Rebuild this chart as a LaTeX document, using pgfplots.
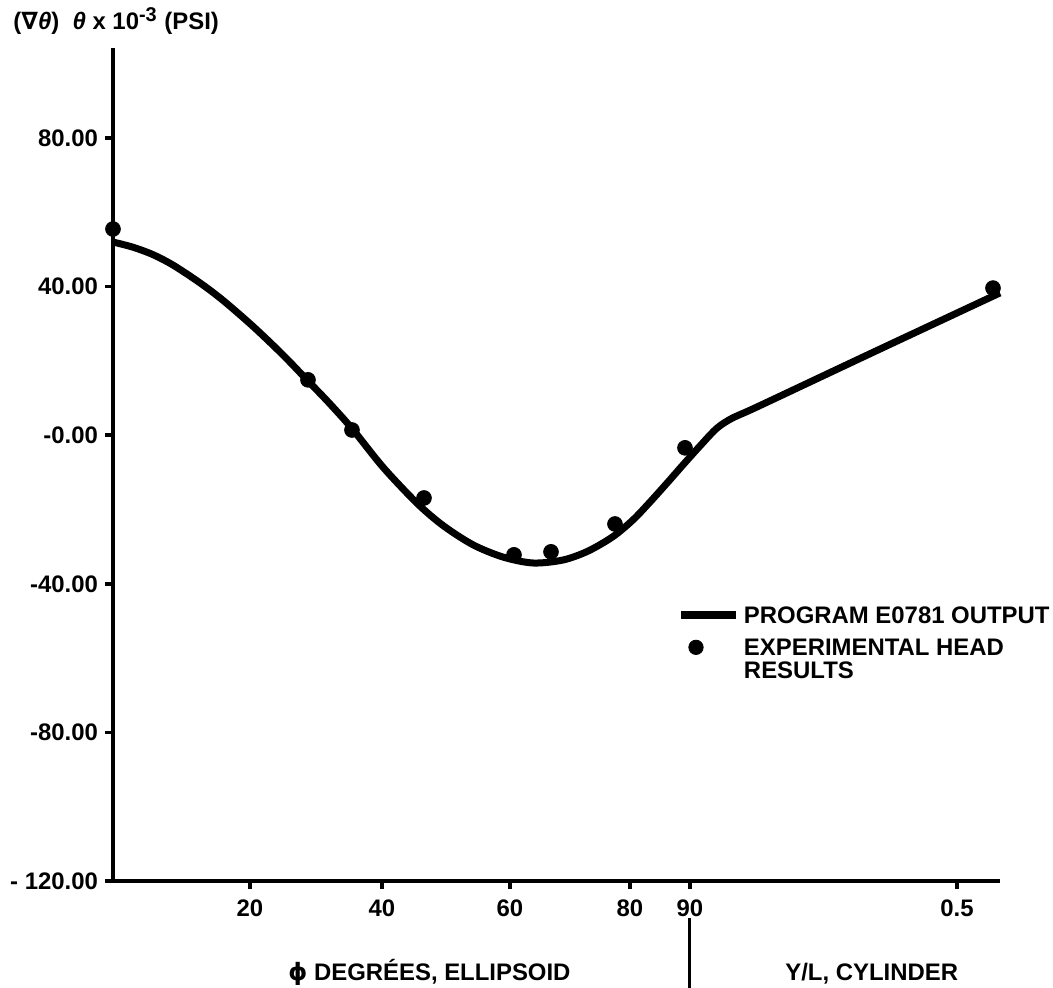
\documentclass[border=0pt]{standalone}
\usepackage{pgfplots}
\pgfplotsset{compat=1.18}
\usepackage{fontspec}
\setmainfont{Liberation Sans}
\newfontfamily\dejavu{DejaVu Sans}
\newcommand\lbl{\fontsize{12}{14}\selectfont\bfseries}
\begin{document}
\begin{tikzpicture}
\useasboundingbox (-56.5bp,-53.5bp) rectangle (470bp,440.5bp);
\begin{axis}[
  at={(0,0)}, anchor=south west,
  x=0.5bp, y=1.8575bp,
  xmin=0, xmax=887, ymin=-120, ymax=104.2,
  axis lines*=left,
  axis line style={line width=2bp},
  clip=false,
  tick align=outside,
  major tick length=4bp,
  every tick/.style={line width=1.8bp, black},
  xtick={137,269,397,517,577,844},
  xticklabels={\mbox{20},\mbox{40},\mbox{60},\mbox{80},\mbox{90},\mbox{0.5}},
  ytick={-120,-80,-40,0,40,80},
  yticklabels={\mbox{- 120.00},\mbox{-80.00},\mbox{-40.00},\mbox{-0.00},\mbox{40.00},\mbox{80.00}},
  ticklabel style={font=\lbl},
  xticklabel style={yshift=-2bp},
  legend style={draw=none, fill=none, inner sep=0pt, outer sep=0pt,
    at={(axis cs:564,-45.2)}, anchor=north west,
    font=\lbl, column sep=0bp, row sep=0.8bp,
    nodes={inner sep=2bp}, cells={anchor=base west}},
]
\addplot[black, line width=3.5bp, smooth, tension=0.5,
  legend image code/.code={\draw[line width=4bp] (0bp,4.3bp) -- (27.5bp,4.3bp);}]
  coordinates {
  (0,52.0) (20,50.6) (40,48.6) (60,45.8) (87,41.0) (110,36.3) (140,29.3)
  (170,21.6) (195,14.6) (215,9.0) (239,1.8) (270,-8.6) (304,-18.3)
  (330,-24.3) (360,-29.5) (390,-32.8) (420,-34.4) (450,-33.6) (475,-31.2)
  (500,-27.3) (520,-22.8) (537,-18.0) (555,-12.6) (570,-8.0) (587,-2.9)
  (604,1.9) (620,4.7) (644,7.6) (760,22.3) (887,38.3)
  };
\addlegendentry{PROGRAM E0781 OUTPUT}
\addplot[black, only marks, mark=*, mark size=3.7bp,
  legend image code/.code={\fill (7.5bp,4.3bp) circle (3.6bp);}]
  coordinates {
  (0,55.5) (195,14.9) (239,1.4) (311,-16.9) (401,-32.2) (438,-31.4)
  (502,-23.9) (572,-3.4) (880,39.6)
  };
\addlegendentry{\begin{tabular}[t]{@{}l@{}}EXPERIMENTAL HEAD\\[-2.5bp]RESULTS\end{tabular}}
\node[anchor=base west, font=\lbl, inner sep=0pt] at (axis cs:-100,109.1)
  {({\dejavu ∇}\textit{θ})\ \ \textit{θ} x 10\textsuperscript{\fontsize{10}{12}\selectfont -3} (PSI)};
\node[anchor=base west, font=\lbl, inner sep=0pt] at (axis cs:175,-146.7)
  {{\dejavu ϕ} DEGRÉES, ELLIPSOID};
\node[anchor=base west, font=\lbl, inner sep=0pt] at (axis cs:672,-146.7)
  {Y/L, CYLINDER};
\draw[line width=1.5bp] (axis cs:577,-129.9) -- (axis cs:577,-148.8);
\end{axis}
\end{tikzpicture}
\end{document}
